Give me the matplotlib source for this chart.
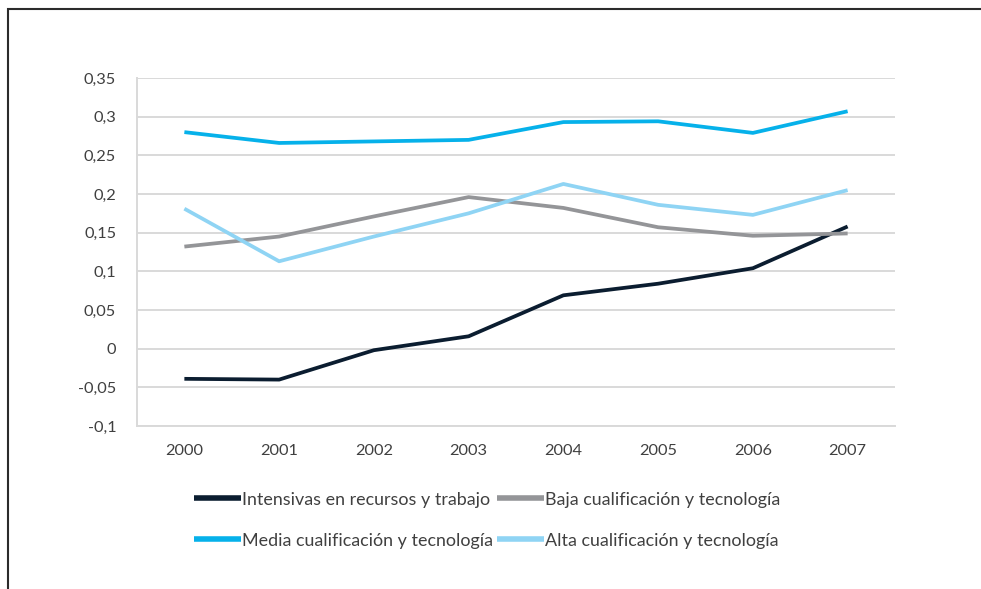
import matplotlib
matplotlib.use("Agg")
import matplotlib.pyplot as plt
from matplotlib.patches import Rectangle

years = ["2000", "2001", "2002", "2003", "2004", "2005", "2006", "2007"]

intensivas = [-0.039, -0.040, -0.002, 0.016, 0.069, 0.084, 0.104, 0.158]
baja = [0.132, 0.145, 0.171, 0.196, 0.182, 0.157, 0.146, 0.149]
media = [0.280, 0.266, 0.268, 0.270, 0.293, 0.294, 0.279, 0.307]
alta = [0.181, 0.113, 0.145, 0.175, 0.213, 0.186, 0.173, 0.205]

series = [
    ("Intensivas en recursos y trabajo", intensivas, "#0b1d30"),
    ("Baja cualificación y tecnología", baja, "#949598"),
    ("Media cualificación y tecnología", media, "#06b1ea"),
    ("Alta cualificación y tecnología", alta, "#8fd4f4"),
]

yticks = [-0.1, -0.05, 0, 0.05, 0.1, 0.15, 0.2, 0.25, 0.3, 0.35]
ytick_labels = ["-0,1", "-0,05", "0", "0,05", "0,1", "0,15", "0,2", "0,25", "0,3", "0,35"]

plt.rcParams["font.family"] = ["Lato", "DejaVu Sans"]
text_color = "#404040"
grid_color = "#d9d9d9"

fig = plt.figure(figsize=(9.81, 5.89), dpi=100)
ax = fig.add_axes([137 / 981, 1 - 426 / 589, (895 - 137) / 981, (426 - 78) / 589])

x = list(range(len(years)))
handles = {}
for name, vals, color in series:
    (line,) = ax.plot(x, vals, color=color, lw=2.7, solid_capstyle="butt",
                      solid_joinstyle="round", label=name, zorder=3)
    handles[name] = line

ax.set_xlim(-0.5, len(years) - 0.5)
ax.set_ylim(-0.1, 0.35)
ax.set_xticks(x)
ax.set_xticklabels(years)
ax.set_yticks(yticks)
ax.set_yticklabels(ytick_labels)
ax.tick_params(axis="both", length=0, labelsize=11.8, colors=text_color)
ax.tick_params(axis="x", pad=13)
ax.tick_params(axis="y", pad=15)
ax.grid(axis="y", color=grid_color, lw=1.4)
ax.set_axisbelow(True)
for side in ["top", "right"]:
    ax.spines[side].set_visible(False)
for side in ["left", "bottom"]:
    ax.spines[side].set_color(grid_color)
    ax.spines[side].set_linewidth(1.4)

order = [series[0][0], series[2][0], series[1][0], series[3][0]]
leg = ax.legend(
    [handles[n] for n in order],
    order,
    ncol=2,
    loc="upper center",
    bbox_to_anchor=(0.462, -0.163),
    frameon=False,
    fontsize=12.9,
    handlelength=2.6,
    handletextpad=0.05,
    columnspacing=0.25,
    labelspacing=1.4,
    borderpad=0,
)
for t in leg.get_texts():
    t.set_color(text_color)
for h in leg.get_lines():
    h.set_linewidth(4)

# frame around the figure (bottom edge cut off in the original)
fig.patches.append(Rectangle((8 / 981, -0.1), 1.2, 1 - 9 / 589 + 0.1,
                             transform=fig.transFigure, fill=False,
                             edgecolor="#2b2b2b", lw=1.5))

fig.savefig("out.png", dpi=100)
